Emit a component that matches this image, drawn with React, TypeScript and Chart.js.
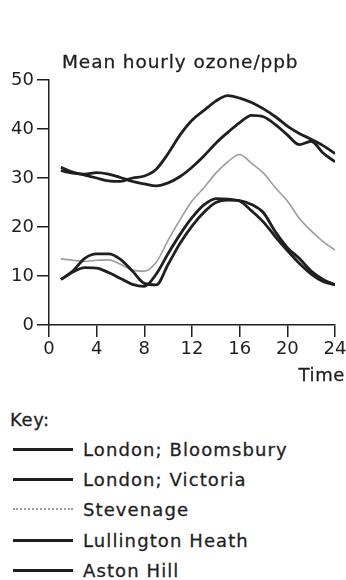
import React, { useEffect, useRef } from "react";
import { Chart, registerables } from "chart.js";

Chart.register(...registerables);

// ---- data ----
const hours = [1, 2, 3, 4, 5, 6, 7, 8, 9, 10, 11, 12, 13, 14, 15, 16, 17, 18, 19, 20, 21, 22, 23, 24];
const xTicks = [0, 4, 8, 12, 16, 20, 24];
const yTicks = [0, 10, 20, 30, 40, 50];

const bloomsbury = [9.3, 10.8, 11.7, 11.6, 10.7, 9.5, 8.3, 7.9, 10.4, 14.6, 18.5, 21.9, 24.5, 25.8, 25.7, 25.3, 23.3, 21.0, 18.0, 15.2, 12.6, 10.4, 8.9, 8.2];
const victoria = [9.3, 11.0, 13.6, 14.5, 14.5, 13.4, 11.0, 8.5, 8.2, 12.4, 16.7, 20.2, 23.0, 25.0, 25.5, 25.4, 24.6, 22.9, 19.0, 15.8, 13.6, 11.0, 9.3, 8.2];
const stevenage = [13.5, 13.2, 13.0, 13.2, 13.3, 12.4, 11.2, 11.0, 12.8, 17.3, 21.5, 25.3, 28.0, 31.0, 33.3, 34.8, 33.0, 31.0, 28.0, 25.3, 21.8, 19.2, 17.0, 15.3];
const lullington = [31.5, 31.0, 30.8, 31.1, 30.8, 30.1, 29.3, 28.8, 28.4, 29.0, 30.3, 32.2, 34.5, 37.1, 39.3, 41.3, 42.8, 42.5, 40.9, 38.8, 36.8, 37.5, 35.1, 33.3];
const astonHill = [32.2, 31.2, 30.6, 30.0, 29.4, 29.3, 30.0, 30.4, 31.8, 35.0, 38.8, 41.8, 43.8, 45.7, 46.8, 46.3, 45.4, 44.1, 42.5, 40.6, 39.1, 37.9, 36.6, 35.0];

const seriesNames = ["London; Bloomsbury", "London; Victoria", "Stevenage", "Lullington Heath", "Aston Hill"];
const seriesValues = [bloomsbury, victoria, stevenage, lullington, astonHill];
const seriesFaint = [false, false, true, false, false];

const titleText = "Mean hourly ozone/ppb";
const xTitleText = "Time";
const keyText = "Key:";

const FONT = '"DejaVu Sans", sans-serif';
const INK = "#1f1f1f";
const FAINT = "#9c9c9c";

export default function App() {
  const canvasRef = useRef<HTMLCanvasElement | null>(null);

  useEffect(() => {
    const canvas = canvasRef.current;
    if (!canvas) return;
    const chart = new Chart(canvas, {
      type: "line",
      data: {
        datasets: seriesValues.map((vals, i) => ({
          label: seriesNames[i],
          data: hours.map((h, j) => ({ x: h, y: vals[j] })),
          borderColor: seriesFaint[i] ? FAINT : INK,
          borderWidth: seriesFaint[i] ? 1.6 : 2.8,
          pointRadius: 0,
          cubicInterpolationMode: "monotone" as const,
          fill: false,
        })),
      },
      options: {
        responsive: false,
        animation: false,
        devicePixelRatio: 1,
        layout: { padding: { top: 80, right: 11, left: 0, bottom: 0 } },
        plugins: {
          legend: { display: false },
          tooltip: { enabled: false },
          title: { display: false },
        },
        scales: {
          x: {
            type: "linear",
            min: 0,
            max: 24,
            afterBuildTicks: (s: any) => {
              s.ticks = xTicks.map((v) => ({ value: v }));
            },
            afterFit: (s: any) => {
              s.height = 75;
              s.paddingLeft = 0;
              s.paddingRight = 0;
            },
            grid: { drawOnChartArea: false, drawTicks: true, tickLength: 12, color: INK, lineWidth: 1.5 },
            border: { display: true, color: INK, width: 1.5 },
            ticks: { font: { family: FONT, size: 18 }, color: INK, padding: 2, maxRotation: 0, autoSkip: false },
          },
          y: {
            type: "linear",
            min: 0,
            max: 50,
            afterBuildTicks: (s: any) => {
              s.ticks = yTicks.map((v) => ({ value: v }));
            },
            afterFit: (s: any) => {
              s.width = 49;
              s.paddingTop = 0;
              s.paddingBottom = 0;
            },
            grid: { drawOnChartArea: false, drawTicks: true, tickLength: 12, color: INK, lineWidth: 1.5 },
            border: { display: true, color: INK, width: 1.5 },
            ticks: { font: { family: FONT, size: 18 }, color: INK, padding: 3, autoSkip: false },
          },
        },
      },
    });
    return () => chart.destroy();
  }, []);

  const textBase: React.CSSProperties = {
    position: "absolute",
    fontFamily: FONT,
    color: INK,
    whiteSpace: "nowrap",
    lineHeight: "18px",
    WebkitTextStroke: `0.3px ${INK}`,
  };

  return (
    <div style={{ position: "fixed", left: 0, top: 0, width: 346, height: 580, background: "#fff", overflow: "hidden" }}>
      <canvas ref={canvasRef} width={346} height={400} style={{ position: "absolute", left: 0, top: 0, width: 346, height: 400 }} />
      <div style={{ ...textBase, left: 62, top: 53, fontSize: 18.5, letterSpacing: "0.9px" }}>{titleText}</div>
      <div style={{ ...textBase, right: 1, top: 366, fontSize: 18, letterSpacing: "0.6px" }}>{xTitleText}</div>
      <div style={{ ...textBase, left: 10, top: 411, fontSize: 18, letterSpacing: "0.6px" }}>{keyText}</div>
      {seriesNames.map((name, i) => {
        const capTop = 443 + i * 30.2;
        return (
          <React.Fragment key={name}>
            <div
              style={{
                position: "absolute",
                left: 13,
                width: 60,
                top: capTop + 5,
                height: 0,
                borderTop: seriesFaint[i] ? `2px dotted ${FAINT}` : `3px solid ${INK}`,
              }}
            />
            <div style={{ ...textBase, left: 83, top: capTop - 2, fontSize: 18, letterSpacing: "1.1px" }}>{name}</div>
          </React.Fragment>
        );
      })}
    </div>
  );
}
